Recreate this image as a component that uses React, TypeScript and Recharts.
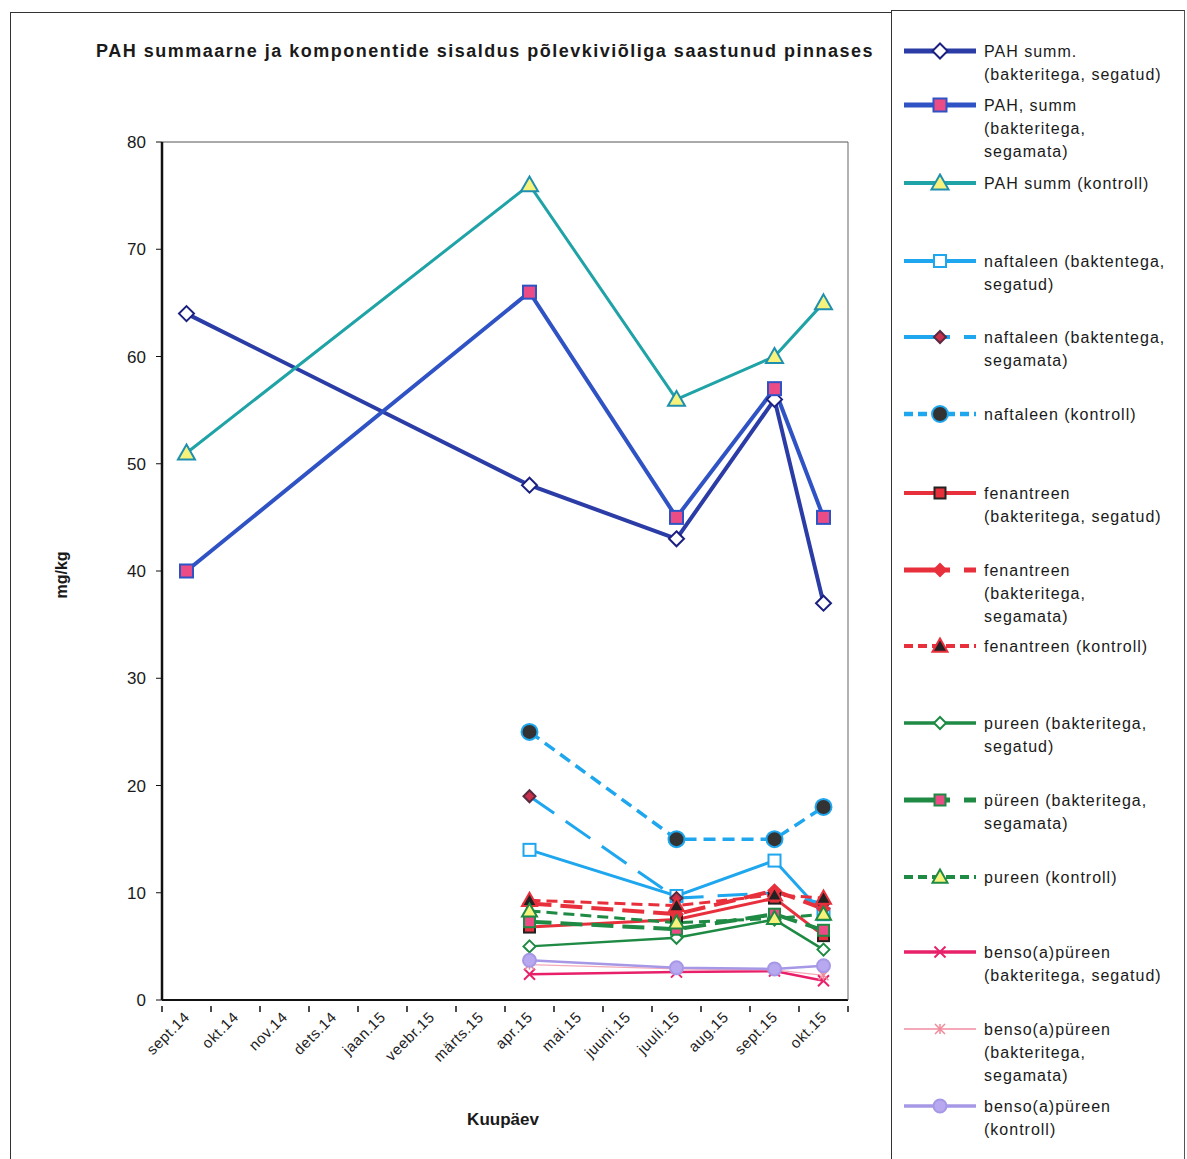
import React from 'react';
import { LineChart, Line, XAxis, YAxis, CartesianGrid } from 'recharts';

// Kuupäevad (kategooriad x-teljel)
const months = [
  'sept.14', 'okt.14', 'nov.14', 'dets.14', 'jaan.15', 'veebr.15', 'märts.15',
  'apr.15', 'mai.15', 'juuni.15', 'juuli.15', 'aug.15', 'sept.15', 'okt.15',
];

const yTicks = [0, 10, 20, 30, 40, 50, 60, 70, 80];

// Mõõtetulemused, mg/kg (null = proovi ei võetud)
const pahSegatud = [64, null, null, null, null, null, null, 48, null, null, 43, null, 56, 37];
const pahSegamata = [40, null, null, null, null, null, null, 66, null, null, 45, null, 57, 45];
const pahKontroll = [51, null, null, null, null, null, null, 76, null, null, 56, null, 60, 65];

const naftSegatud = [null, null, null, null, null, null, null, 14, null, null, 9.7, null, 13, 8];
const naftSegamata = [null, null, null, null, null, null, null, 19, null, null, 9.5, null, 10, 9];
const naftKontroll = [null, null, null, null, null, null, null, 25, null, null, 15, null, 15, 18];

const fenSegatud = [null, null, null, null, null, null, null, 6.8, null, null, 7.5, null, 9.5, 6];
const fenSegamata = [null, null, null, null, null, null, null, 9, null, null, 8, null, 10.2, 8.5];
const fenKontroll = [null, null, null, null, null, null, null, 9.3, null, null, 8.8, null, 9.8, 9.5];

const pyrSegatud = [null, null, null, null, null, null, null, 5, null, null, 5.8, null, 7.5, 4.7];
const pyrSegamata = [null, null, null, null, null, null, null, 7.3, null, null, 6.6, null, 8, 6.5];
const pyrKontroll = [null, null, null, null, null, null, null, 8.3, null, null, 7.2, null, 7.6, 8];

const bapSegatud = [null, null, null, null, null, null, null, 2.4, null, null, 2.6, null, 2.7, 1.8];
const bapSegamata = [null, null, null, null, null, null, null, 3.3, null, null, 2.9, null, 2.8, 2.3];
const bapKontroll = [null, null, null, null, null, null, null, 3.7, null, null, 3, null, 2.9, 3.2];

type Shape = 'diamond' | 'square' | 'triangle' | 'circle' | 'x' | 'star';

interface SeriesDef {
  key: string;
  values: (number | null)[];
  label: string[];
  color: string;
  width: number;
  dash?: string;
  legendDash?: string;
  shape: Shape;
  size: number;
  fill: string;
  stroke: string;
}

const series: SeriesDef[] = [
  { key: 'pahSegatud', values: pahSegatud, label: ['PAH summ.', '(bakteritega, segatud)'], color: '#2B3CA6', width: 4, shape: 'diamond', size: 15, fill: '#ffffff', stroke: '#1B2080' },
  { key: 'pahSegamata', values: pahSegamata, label: ['PAH, summ', '(bakteritega,', 'segamata)'], color: '#2F52C4', width: 4, shape: 'square', size: 13, fill: '#EC4C86', stroke: '#2F52C4' },
  { key: 'pahKontroll', values: pahKontroll, label: ['PAH summ (kontroll)'], color: '#1FA3A6', width: 3, shape: 'triangle', size: 17, fill: '#F6F27C', stroke: '#1F8FB0' },
  { key: 'naftSegatud', values: naftSegatud, label: ['naftaleen (baktentega,', 'segatud)'], color: '#1EA6EE', width: 3, shape: 'square', size: 12, fill: '#ffffff', stroke: '#1EA6EE' },
  { key: 'naftSegamata', values: naftSegamata, label: ['naftaleen (baktentega,', 'segamata)'], color: '#1EA6EE', width: 3, dash: '30 14', legendDash: '46 14', shape: 'diamond', size: 12, fill: '#C8304C', stroke: '#5A2A40' },
  { key: 'naftKontroll', values: naftKontroll, label: ['naftaleen  (kontroll)'], color: '#1EA6EE', width: 3.5, dash: '12 7', legendDash: '9 5', shape: 'circle', size: 16, fill: '#333333', stroke: '#1EA6EE' },
  { key: 'fenSegatud', values: fenSegatud, label: ['fenantreen', '(bakteritega, segatud)'], color: '#E8303C', width: 3, shape: 'square', size: 11, fill: '#E8303C', stroke: '#222222' },
  { key: 'fenSegamata', values: fenSegamata, label: ['fenantreen', '(bakteritega,', 'segamata)'], color: '#E8303C', width: 4, dash: '22 9', legendDash: '46 14', shape: 'diamond', size: 12, fill: '#E8303C', stroke: '#E8303C' },
  { key: 'fenKontroll', values: fenKontroll, label: ['fenantreen (kontroll)'], color: '#E8303C', width: 3, dash: '11 6', legendDash: '9 5', shape: 'triangle', size: 15, fill: '#222222', stroke: '#E8303C' },
  { key: 'pyrSegatud', values: pyrSegatud, label: ['pureen (bakteritega,', 'segatud)'], color: '#1E8A44', width: 2.5, shape: 'diamond', size: 12, fill: '#ffffff', stroke: '#1E8A44' },
  { key: 'pyrSegamata', values: pyrSegamata, label: ['püreen (bakteritega,', 'segamata)'], color: '#1E8A44', width: 4, dash: '22 9', legendDash: '46 14', shape: 'square', size: 11, fill: '#EC4C86', stroke: '#1E8A44' },
  { key: 'pyrKontroll', values: pyrKontroll, label: ['pureen (kontroll)'], color: '#1E8A44', width: 3, dash: '11 6', legendDash: '9 5', shape: 'triangle', size: 15, fill: '#F6F27C', stroke: '#1E8A44' },
  { key: 'bapSegatud', values: bapSegatud, label: ['benso(a)püreen', '(bakteritega, segatud)'], color: '#E8206A', width: 2.5, shape: 'x', size: 11, fill: 'none', stroke: '#E8206A' },
  { key: 'bapSegamata', values: bapSegamata, label: ['benso(a)püreen', '(bakteritega,', 'segamata)'], color: '#F4A8B8', width: 1.2, shape: 'star', size: 10, fill: 'none', stroke: '#F08898' },
  { key: 'bapKontroll', values: bapKontroll, label: ['benso(a)püreen', '(kontroll)'], color: '#A698E6', width: 2.5, shape: 'circle', size: 13, fill: '#B8A8F0', stroke: '#A698E6' },
];

// legendi ridade asukohad lehel (joonenäidise kõrgus)
const legendRowY = [50, 104, 182, 260, 336, 413, 492, 569, 645, 722, 799, 876, 951, 1028, 1105];

const data = months.map((m, i) => {
  const row: Record<string, any> = { month: m };
  series.forEach((s) => {
    row[s.key] = s.values[i];
  });
  return row;
});

const PLOT_LEFT = 162;
const PLOT_RIGHT = 848;
const BAND = (PLOT_RIGHT - PLOT_LEFT) / months.length;
const LEGEND_TOP = 10;

const marker = (s: SeriesDef, cx: number, cy: number, key?: string) => {
  const h = s.size / 2;
  const common = { fill: s.fill, stroke: s.stroke, strokeWidth: 2 };
  switch (s.shape) {
    case 'diamond':
      return <polygon key={key} points={`${cx},${cy - h} ${cx + h},${cy} ${cx},${cy + h} ${cx - h},${cy}`} {...common} />;
    case 'square':
      return <rect key={key} x={cx - h} y={cy - h} width={s.size} height={s.size} {...common} />;
    case 'triangle':
      return <polygon key={key} points={`${cx},${cy - h} ${cx + h},${cy + h * 0.75} ${cx - h},${cy + h * 0.75}`} {...common} />;
    case 'circle':
      return <circle key={key} cx={cx} cy={cy} r={h} {...common} />;
    case 'x':
      return (
        <g key={key} stroke={s.stroke} strokeWidth={2}>
          <line x1={cx - h} y1={cy - h} x2={cx + h} y2={cy + h} />
          <line x1={cx - h} y1={cy + h} x2={cx + h} y2={cy - h} />
        </g>
      );
    default:
      return (
        <g key={key} stroke={s.stroke} strokeWidth={1.5}>
          <line x1={cx - h} y1={cy - h} x2={cx + h} y2={cy + h} />
          <line x1={cx - h} y1={cy + h} x2={cx + h} y2={cy - h} />
          <line x1={cx} y1={cy - h} x2={cx} y2={cy + h} />
        </g>
      );
  }
};

const MonthTick = (props: any) => {
  const { x, y, payload, index } = props;
  const left = x - BAND / 2;
  return (
    <g>
      <line x1={left} y1={y - 2} x2={left} y2={y + 4} stroke="#111" strokeWidth={1.5} />
      {index === months.length - 1 && (
        <line x1={x + BAND / 2} y1={y - 2} x2={x + BAND / 2} y2={y + 4} stroke="#111" strokeWidth={1.5} />
      )}
      <text
        x={x + 4}
        y={y + 10}
        textAnchor="end"
        fontSize={15}
        letterSpacing={0.6}
        fill="#222"
        transform={`rotate(-45, ${x + 4}, ${y + 10})`}
      >
        {payload.value}
      </text>
    </g>
  );
};

const LegendBox = () => (
  <div
    style={{
      position: 'absolute',
      left: 891,
      top: LEGEND_TOP,
      width: 292,
      height: 1160,
      borderLeft: '1px solid #333',
      borderRight: '1px solid #555',
      borderTop: '1px solid #333',
    }}
  >
    {series.map((s, i) => {
      const y = legendRowY[i] - LEGEND_TOP - 10;
      return (
        <div key={s.key} style={{ position: 'absolute', left: 0, top: y, width: 292 }}>
          <svg width={90} height={20} style={{ position: 'absolute', left: 8, top: 0 }}>
            <line
              x1={4}
              y1={10}
              x2={76}
              y2={10}
              stroke={s.color}
              strokeWidth={s.width + 1}
              strokeDasharray={s.legendDash}
            />
            {marker(s, 40, 10)}
          </svg>
          <div
            style={{
              position: 'absolute',
              left: 92,
              top: -1,
              fontSize: 16,
              lineHeight: '23px',
              letterSpacing: 1,
              color: '#1a1a1a',
              whiteSpace: 'nowrap',
            }}
          >
            {s.label.map((t, j) => (
              <div key={j}>{t}</div>
            ))}
          </div>
        </div>
      );
    })}
  </div>
);

export default function App() {
  return (
    <div
      style={{
        position: 'absolute',
        left: 0,
        top: 0,
        width: 1187,
        height: 1159,
        background: '#fff',
        overflow: 'hidden',
        fontFamily: 'Arial, "Liberation Sans", sans-serif',
      }}
    >
      {/* diagrammi raam */}
      <div
        style={{
          position: 'absolute',
          left: 10,
          top: 12,
          width: 881,
          height: 1160,
          borderLeft: '1px solid #333',
          borderTop: '1px solid #333',
        }}
      />
      <div
        style={{
          position: 'absolute',
          left: 80,
          top: 41,
          width: 810,
          textAlign: 'center',
          fontSize: 18,
          fontWeight: 'bold',
          letterSpacing: 1.5,
          color: '#1a1a1a',
        }}
      >
        PAH summaarne ja komponentide sisaldus põlevkiviõliga saastunud pinnases
      </div>

      <LineChart
        width={1187}
        height={1159}
        data={data}
        margin={{ top: 142, right: 338, bottom: 79, left: 102 }}
        style={{ position: 'absolute', left: 0, top: 0 }}
      >
        <CartesianGrid vertical={false} stroke="#555" strokeWidth={1} />
        <XAxis
          dataKey="month"
          interval={0}
          height={80}
          padding={{ left: BAND / 2, right: BAND / 2 }}
          tick={<MonthTick />}
          tickLine={false}
          axisLine={{ stroke: '#111', strokeWidth: 2 }}
        />
        <YAxis
          yAxisId="left"
          domain={[0, 80]}
          ticks={yTicks}
          width={60}
          tickSize={6}
          tickMargin={10}
          tick={{ fontSize: 17, fill: '#1a1a1a' }}
          tickLine={{ stroke: '#111' }}
          axisLine={{ stroke: '#111', strokeWidth: 2.5 }}
        />
        <YAxis
          yAxisId="frame"
          orientation="right"
          domain={[0, 80]}
          width={1}
          tick={false}
          tickLine={false}
          axisLine={{ stroke: '#666' }}
        />
        {series.map((s) => (
          <Line
            key={s.key}
            yAxisId="left"
            type="linear"
            dataKey={s.key}
            name={s.label.join(' ')}
            stroke={s.color}
            strokeWidth={s.width}
            strokeDasharray={s.dash}
            connectNulls
            isAnimationActive={false}
            dot={(p: any) =>
              p.value == null || p.cy == null ? <g key={`${s.key}-${p.index}`} /> : marker(s, p.cx, p.cy, `${s.key}-${p.index}`)
            }
            activeDot={false}
          />
        ))}
      </LineChart>

      <div
        style={{
          position: 'absolute',
          left: 62,
          top: 575,
          transform: 'translate(-50%, -50%) rotate(-90deg)',
          fontSize: 16,
          fontWeight: 'bold',
          color: '#1a1a1a',
        }}
      >
        mg/kg
      </div>
      <div
        style={{
          position: 'absolute',
          left: 503,
          top: 1120,
          transform: 'translate(-50%, -50%)',
          fontSize: 17,
          fontWeight: 'bold',
          color: '#1a1a1a',
        }}
      >
        Kuupäev
      </div>

      <LegendBox />
    </div>
  );
}
